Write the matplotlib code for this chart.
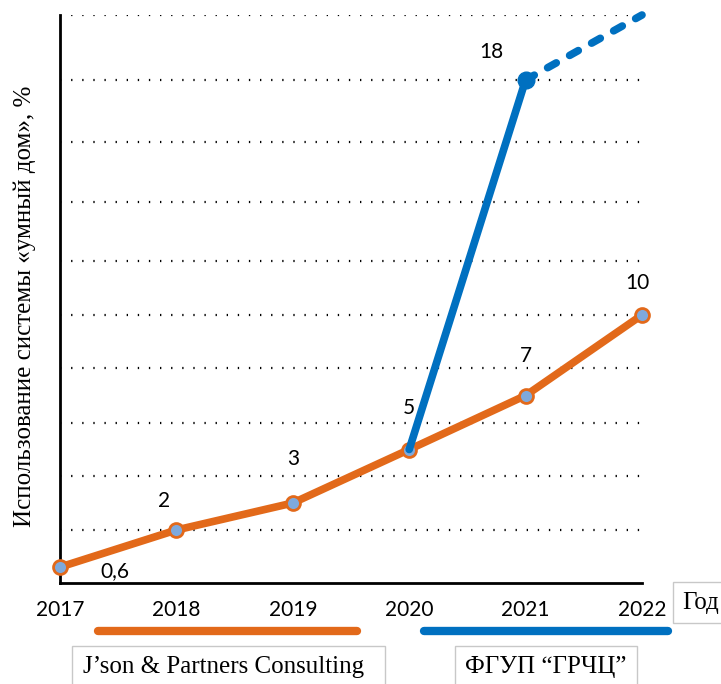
import numpy as np
import matplotlib
matplotlib.use("Agg")
from matplotlib import pyplot as plt
from matplotlib.lines import Line2D
from matplotlib.patches import Rectangle

years = [2017, 2018, 2019, 2020, 2021, 2022]
jp_values = [0.6, 2, 3, 5, 7, 10]
jp_labels = ["0,6", "2", "3", "5", "7", "10"]
fgup_years = [2020, 2021]
fgup_values = [5, 18]
fgup_fc_years = [2021, 2022]
fgup_fc_values = [18, 20]

# the y axis of the original is not uniform: gridline heights (px above the x axis)
grid_vals = [0, 2, 4, 6, 8, 10, 12, 14, 16, 18, 20]
grid_h = [0, 53, 107, 160, 215, 268, 322, 381, 441, 503, 568]

orange = "#E2691A"
blue = "#0070C0"
light = "#7EA9DC"


def fwd(v):
    return np.interp(v, grid_vals, grid_h)


def inv(h):
    return np.interp(h, grid_h, grid_vals)


fig = plt.figure(figsize=(7.21, 6.84), dpi=100)
ax = fig.add_axes([60 / 721, 1 - 583 / 684, 582 / 721, 568 / 684])
ax.set_yscale("function", functions=(fwd, inv))
ax.set_xlim(2017, 2022)
ax.set_ylim(0, 20)

ax.set_yticks(grid_vals[1:])
ax.set_yticklabels([])
ax.tick_params(axis="y", length=0)
ax.tick_params(axis="x", length=0, pad=12)
ax.set_xticks(years)
ax.set_xticklabels([str(y) for y in years], fontsize=15, family="Lato")
ax.grid(axis="y", color="black", linewidth=1.6, linestyle=(0, (0.6, 4.4)))
for s in ["top", "right"]:
    ax.spines[s].set_visible(False)
ax.spines["left"].set_linewidth(2)
ax.spines["bottom"].set_linewidth(2)

ax.plot(years, jp_values, color=orange, linewidth=5.5, solid_capstyle="round",
        marker="o", markersize=10, markerfacecolor=light, markeredgecolor=orange,
        markeredgewidth=2, clip_on=False, zorder=3)
ax.plot(fgup_years, fgup_values, color=blue, linewidth=5.5, solid_capstyle="round",
        clip_on=False, zorder=4)
ax.plot(fgup_fc_years, fgup_fc_values, color=blue, linewidth=5.5,
        dash_capstyle="round", linestyle=(0, (1.3, 2.0)), clip_on=False, zorder=4)
ax.plot([2021], [18], "o", color=blue, markersize=12, zorder=5, clip_on=False)

offsets = [(55, -4), (-12, 29), (0, 44), (0, 42), (0, 40), (-5, 32)]
for x, y, lab, off in zip(years, jp_values, jp_labels, offsets):
    ax.annotate(lab, (x, y), xytext=off, textcoords="offset pixels",
                ha="center", va="center", fontsize=15, family="Lato")
ax.annotate("18", (2021, 18), xytext=(-34, 28), textcoords="offset pixels",
            ha="center", va="center", fontsize=15, family="Lato")

fig.text(25 / 721, 1 - 306 / 684, "Использование системы «умный дом», %",
         rotation=90, ha="center", va="center", fontsize=18,
         family="Liberation Serif")

# source bars and boxes under the axis
fig.add_artist(Line2D([98 / 721, 357 / 721], [1 - 631 / 684] * 2, color=orange,
                      linewidth=6, solid_capstyle="round"))
fig.add_artist(Line2D([424 / 721, 668 / 721], [1 - 631 / 684] * 2, color=blue,
                      linewidth=6, solid_capstyle="round"))
for x0, x1 in [(72, 385), (455, 637)]:
    fig.add_artist(Rectangle((x0 / 721, -0.05), (x1 - x0) / 721, 0.05 + 1 - 646 / 684,
                             facecolor="white", edgecolor="#c8c8c8", linewidth=1))
fig.add_artist(Rectangle((673 / 721, 1 - 623 / 684), 0.1, 41 / 684,
                         facecolor="white", edgecolor="#c8c8c8", linewidth=1))
fig.text(224 / 721, 1 - 667 / 684, "J’son & Partners Consulting", ha="center",
         va="center", fontsize=18, family="Liberation Serif")
fig.text(546 / 721, 1 - 667 / 684, "ФГУП “ГРЧЦ”", ha="center",
         va="center", fontsize=18, family="Liberation Serif")
fig.text(682 / 721, 1 - 603 / 684, "Год", ha="left",
         va="center", fontsize=18, family="Liberation Serif")

plt.savefig("out.png", dpi=100)
